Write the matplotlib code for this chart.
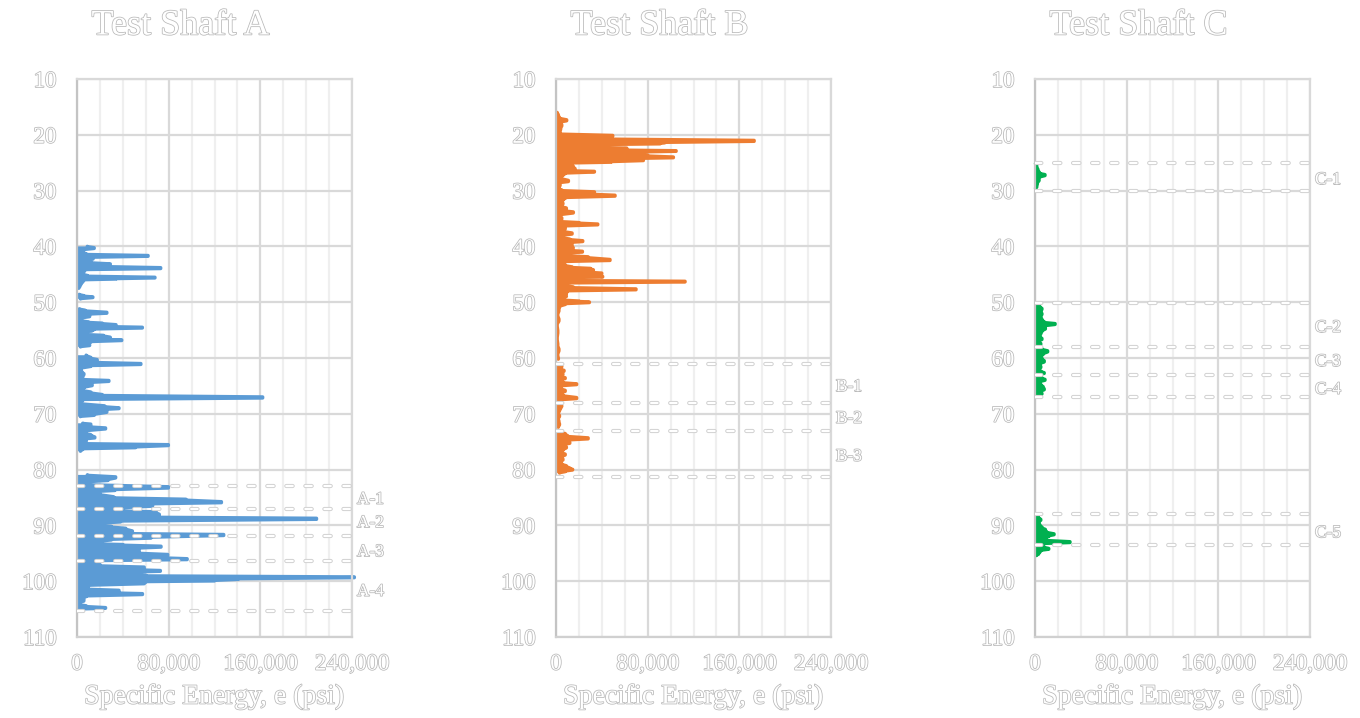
import matplotlib
matplotlib.use('Agg')
import matplotlib.pyplot as plt
import matplotlib.patheffects as pe
import matplotlib.transforms as mtransforms
import numpy as np

nan = float('nan')

# ---------------- data ----------------
titles = ['Test Shaft A', 'Test Shaft B', 'Test Shaft C']
x_label = 'Specific Energy, e (psi)'
x_ticks = [0, 80000, 160000, 240000]
x_tick_labels = ['0', '80,000', '160,000', '240,000']
y_ticks = [10, 20, 30, 40, 50, 60, 70, 80, 90, 100, 110]

depth_a = [40.0, 40.3, 40.6, 41.0, 41.4, 41.7, 42.0, 42.2, 42.5, 42.9, 43.2, 43.5, 43.9, 44.2,
           44.5, 44.9, 45.3, 45.6, 45.8, 46.0, 46.3, 46.7, 47.1, 47.5, nan,
           48.6, 48.9, 49.1, 49.4, nan,
           51.2, 51.5, 51.9, 52.2, 52.5, 52.9, 53.3, 53.6, 53.8, 54.1, 54.3, 54.55, 54.85, 55.1,
           55.4, 55.75, 56.0, 56.35, 56.6, 56.8, 57.1, 57.4, 57.7, 58.0, nan,
           59.5, 60.0, 60.36, 60.7, 61.08, 61.4, 61.9, 62.45, 62.9, 63.35, 63.8, 64.1, 64.5, 64.85,
           65.3, 65.7, 66.2, 66.65, 67.07, 67.5, 68.1, 68.7, 69.0, 69.3, 69.6, 70.2, 70.5, nan,
           71.7, 71.9, 72.3, 72.6, 73.1, 73.5, 73.8, 74.25, 74.55, 74.85, 75.3, 75.6, 76.0, 76.3,
           76.7, nan,
           80.95, 81.4, 81.85, 82.3, 82.6, 83.2, 83.65, 84.05, 84.4, 85.0, 85.4, 85.85, 86.2, 86.45,
           86.9, 87.3, 87.65, 88.1, 88.45, 88.8, 89.3, 89.65, 89.9, 90.25, 90.6, 91.1, 91.4, 91.7,
           92.2, 92.55, 92.8, 93.2, 93.5, 93.8, 94.2, 94.55, 94.9, 95.3, 95.65, 96.06, 96.35, 96.6,
           96.9, 97.2, 97.55, 97.85, 98.15, 98.45, 98.75, 99.0, 99.3, 99.6, 99.9, 100.1, 100.35,
           100.8, 101.1, 101.4, 101.7, 102.0, 102.3, 102.7, 103.0, 103.3, 103.5, 103.8, 104.1,
           104.5, 104.8, 105.0]
energy_a = [9000, 15000, 6000, 4000, 8000, 62000, 9000, 14000, 5000, 12000, 29000, 10000, 73000, 7000,
            6000, 4000, 9000, 68000, 34000, 6000, 5000, 3500, 2500, 1500, nan,
            2000, 6000, 13800, 3000, nan,
            2000, 7000, 26000, 8000, 11000, 3000, 4000, 10000, 22000, 34000, 18000, 57000, 15000, 13000,
            4000, 6000, 23000, 29000, 15000, 39000, 12000, 6000, 11000, 3000, nan,
            8000, 12000, 17600, 6000, 55700, 12000, 3000, 4000, 6000, 5000, 3000, 27800, 6000, 13200,
            6000, 3000, 12000, 22000, 162000, 5000, 3000, 24000, 36600, 20000, 26000, 15000, 3000, nan,
            5000, 12000, 10000, 24900, 8000, 7000, 12000, 15500, 6000, 8000, 4000, 79700, 51000, 5000,
            3000, nan,
            9000, 33700, 27000, 5000, 8000, 79700, 33000, 10000, 20000, 32000, 95000, 126000, 60000, 65900,
            40000, 30000, 68800, 71800, 40000, 209000, 38000, 20000, 3000, 30000, 42500, 48300, 30000, 128000,
            64500, 30000, 22000, 3000, 40000, 73300, 45000, 54200, 50000, 79100, 60000, 96100, 20000, 20000,
            10000, 20000, 58600, 40000, 72700, 40000, 45400, 60000, 242000, 140600, 120000, 60000, 58600,
            10000, 3000, 10000, 36600, 20000, 57100, 8000, 3000, 6000, 5900, 2000, 1000,
            8000, 24900, 3000]

depth_b = [16.0, 16.5, 17.0, 17.4, 17.8, 18.3, 18.9, 19.5, 19.8, 20.2, 20.4, 20.65, 21.1, 21.4,
           21.55, 21.85, 22.15, 22.45, 22.7, 22.9, 23.15, 23.45, 23.75, 24.05, 24.3, 24.55, 24.85, 25.1,
           25.3, 25.7, 26.15, 26.4, 26.6, 26.9, 27.2, 27.7, 28.3, 28.65, 29.0, 29.6, 29.95, 30.3,
           30.6, 30.9, 31.3, 31.7, 32.0, 32.3, 32.8, 33.2, 33.55, 33.9, 34.4, 35.0, 35.5, 35.8,
           36.05, 36.4, 36.8, 37.2, 37.7, 38.1, 38.45, 38.75, 39.05, 39.4, 39.75, 40.0, 40.25, 40.6,
           40.95, 41.25, 41.55, 41.95, 42.45, 42.75, 43.05, 43.4, 43.75, 44.0, 44.25, 44.55, 44.85, 45.15,
           45.45, 45.6, 45.85, 46.1, 46.3, 46.6, 46.9, 47.35, 47.7, 48.0, 48.4, 48.7, 48.9, 49.3,
           49.6, 49.85, 50.0, 50.3, 50.8, 51.4, 52.3, 53.2, 54.1, 55.3, 56.5, 57.7, 58.55, 59.45,
           60.2, nan,
           61.3, 61.5, 61.9, 62.3, 62.6, 62.9, 63.3, 63.6, 64.0, 64.4, 64.7, 65.0, 65.4, 65.9,
           66.3, 66.7, 67.2, 67.5, 67.8, nan,
           68.4, 68.6, 69.0, 69.4, 69.9, 70.4, 70.9, 71.4, 71.9, 72.4, nan,
           73.3, 73.6, 74.0, 74.4, 74.8, 75.2, 75.6, 76.0, 76.5, 76.9, 77.3, 77.7, 78.2, 78.6,
           79.0, 79.4, 79.8, 80.0, 80.3, 80.6]
energy_b = [1000, 2000, 3000, 9300, 3000, 5000, 4000, 3500, 2000, 49500, 30000, 18000, 172900, 95000,
            90800, 15000, 12000, 61700, 50000, 104800, 60000, 70400, 80000, 102400, 60000, 76200, 48000, 8000,
            10000, 15000, 16600, 6000, 33500, 8000, 6000, 3000, 10800, 2000, 3500, 2000, 5000, 33500,
            30000, 51500, 8000, 6000, 4000, 6000, 4000, 9000, 6000, 15100, 3000, 5000, 3000, 20000,
            36400, 5000, 8000, 4000, 14000, 4000, 6000, 12000, 23300, 8000, 14000, 12000, 15000, 5000,
            23000, 6000, 4000, 28000, 47100, 8000, 5000, 8000, 14000, 30000, 32600, 25000, 39900, 30000,
            40700, 12000, 6000, 15000, 112600, 8000, 5000, 15000, 69800, 10000, 9000, 6000, 9000, 5000,
            7000, 20000, 29100, 8000, 3000, 2500, 1500, 2500, 1000, 1500, 1000, 1500, 2500, 1500,
            2000, nan,
            1000, 5000, 3000, 7000, 4000, 6000, 4000, 8000, 3000, 6000, 18000, 5000, 3000, 8000,
            4000, 6000, 18000, 5000, 3000, nan,
            3000, 5000, 4000, 3000, 2000, 3000, 2000, 2500, 3000, 2000, nan,
            2000, 8000, 10000, 28000, 6000, 12000, 4000, 9000, 6000, 4000, 8000, 5000, 6000, 4000,
            5000, 9000, 12000, 14500, 8000, 3000]

depth_c = [25.1, 25.7, 26.3, 26.9, 27.2, 27.7, 28.1, 28.7, 29.3, 29.6, nan,
           50.2, 50.8, 51.2, 51.7, 52.1, 52.6, 53.15, 53.6, 53.9, 54.3, 54.7, 55.2, 55.6, 56.1,
           56.6, 57.0, 57.5, 57.9, 58.4, 58.8, 59.3, 59.7, 60.1, 60.6, 61.1, 61.6, 62.1, 62.4,
           62.7, 63.0, 63.3, 63.6, 63.9, 64.3, 64.8, 65.2, 65.6, 66.0, 66.4, 66.7, nan,
           88.1, 88.6, 89.0, 89.4, 89.9, 90.4, 90.8, 91.2, 91.6, 91.9, 92.3, 92.65, 93.0, 93.3,
           93.6, 93.9, 94.2, 94.5, 94.8, 95.1, 95.4]
energy_c = [500, 1500, 2500, 4000, 8700, 3000, 3500, 2000, 1500, 500, nan,
            2000, 4000, 6000, 5000, 6000, 5000, 6000, 8000, 17500, 7000, 9000, 6000, 5000, 4000,
            6000, 3000, 5000, 2000, 6000, 11000, 7000, 5000, 6000, 8000, 4000, 5000, 3000, 5000,
            8000, 2000, 4000, 6000, 8700, 4000, 5000, 7000, 8000, 5000, 6000, 4000, nan,
            1000, 3000, 5000, 3000, 4000, 6000, 9000, 10000, 16600, 12000, 8000, 10000, 30500, 5000,
            3000, 8000, 12000, 5000, 4000, 3000, 1000]

zones_a = [82.9, 87.1, 91.9, 96.3, 105.4]
zones_b = [61.1, 68.1, 73.1, 81.3]
zones_c = [25.0, 30.0, 50.1, 58.1, 63.0, 66.9, 88.0, 93.5]
zone_labels_a = ['A-1', 'A-2', 'A-3', 'A-4']
zone_label_depths_a = [85.4, 89.6, 94.8, 101.9]
zone_labels_b = ['B-1', 'B-2', 'B-3']
zone_label_depths_b = [65.2, 70.9, 77.7]
zone_labels_c = ['C-1', 'C-2', 'C-3', 'C-4', 'C-5']
zone_label_depths_c = [28.1, 54.6, 60.7, 65.7, 91.4]

colors = ['#5B9BD5', '#ED7D31', '#00B050']


def depth_profile(dep, en, f=0.2):
    """Each reading holds its value over a short depth interval (depth-wise steps)."""
    d = np.asarray(dep, float)
    e = np.asarray(en, float)
    xs, ys = [], []
    n = len(d)
    for i in range(n):
        if np.isnan(d[i]):
            xs.append(np.nan)
            ys.append(np.nan)
            continue
        lo = d[i] - f * (d[i] - d[i - 1]) if i > 0 and not np.isnan(d[i - 1]) else d[i]
        hi = d[i] + f * (d[i + 1] - d[i]) if i < n - 1 and not np.isnan(d[i + 1]) else d[i]
        xs += [e[i], e[i]]
        ys += [lo, hi]
    return np.array(xs), np.array(ys)


# ---------------- drawing ----------------
plt.rcParams['lines.scale_dashes'] = False
W, H = 1360, 718
fig = plt.figure(figsize=(W / 100, H / 100), dpi=100)
fig.patch.set_facecolor('white')

SERIF = ['Liberation Serif', 'DejaVu Serif']
outline = [pe.withStroke(linewidth=1.1, foreground='#b8b8b8')]


def rect(l, r, t, b):
    return [l / W, 1 - b / H, (r - l) / W, (b - t) / H]


panels = [
    (77, depth_a, energy_a, zones_a, zone_labels_a, zone_label_depths_a),
    (556, depth_b, energy_b, zones_b, zone_labels_b, zone_label_depths_b),
    (1035, depth_c, energy_c, zones_c, zone_labels_c, zone_label_depths_c),
]

for i, (left, dep, en, zones, zlabs, zdeps) in enumerate(panels):
    right = left + 275
    ax = fig.add_axes(rect(left, right, 79, 637))
    ax.set_facecolor('none')
    ax.set_xlim(0, 240000)
    ax.set_ylim(110, 10)
    ax.set_xticks(x_ticks)
    ax.set_xticklabels(x_tick_labels)
    ax.set_xticks(np.arange(0, 240001, 20000), minor=True)
    ax.set_yticks(y_ticks)
    ax.set_yticklabels([str(v) for v in y_ticks])
    ax.grid(which='minor', axis='x', color='#efefef', lw=1.6, zorder=0)
    ax.grid(which='major', color='#d9d9d9', lw=1.6, zorder=0)
    ax.set_axisbelow(True)
    for s in ax.spines.values():
        s.set_color('#d9d9d9')
        s.set_linewidth(1.6)
    ax.spines['left'].set_color('#c4c4c4')
    ax.spines['bottom'].set_color('#d0d0d0')
    ax.tick_params(which='both', length=0)
    ax.tick_params(axis='y', pad=15)
    ax.tick_params(axis='x', pad=12)
    for lab in ax.get_xticklabels() + ax.get_yticklabels():
        lab.set_family(SERIF)
        lab.set_fontsize(16.5)
        lab.set_color('white')
        lab.set_path_effects(outline)

    px, py = depth_profile(dep, en)
    ax.fill_betweenx(py, 0, px, color=colors[i], lw=0, zorder=2, clip_on=False)
    ax.plot(px, py, color=colors[i], lw=2.5, solid_capstyle='round',
            solid_joinstyle='round', zorder=2, clip_on=False)

    for z in zones:
        ax.axhline(z, color='#d0d0d0', lw=3.0, linestyle=(0, (4.6, 9.1)),
                   dash_capstyle='round', zorder=3)
        ax.axhline(z, color='white', lw=1.6, linestyle=(0, (4.6, 9.1)),
                   dash_capstyle='round', zorder=3.1)

    trans = mtransforms.blended_transform_factory(ax.transAxes, ax.transData)
    for lab, d in zip(zlabs, zdeps):
        ax.text(1.018, d, lab, transform=trans, ha='left', va='center', fontsize=12.5,
                family=SERIF, color='white', path_effects=outline)

    cx = (left + right) / 2
    fig.text((cx - 34) / W, 1 - 26 / H, titles[i], ha='center', va='center', fontsize=26,
             family=SERIF, color='white', path_effects=outline)
    fig.text(cx / W, 1 - 697 / H, x_label, ha='center', va='center', fontsize=20,
             family=SERIF, color='white', path_effects=outline)

fig.savefig('out.png', dpi=100, facecolor='white')
